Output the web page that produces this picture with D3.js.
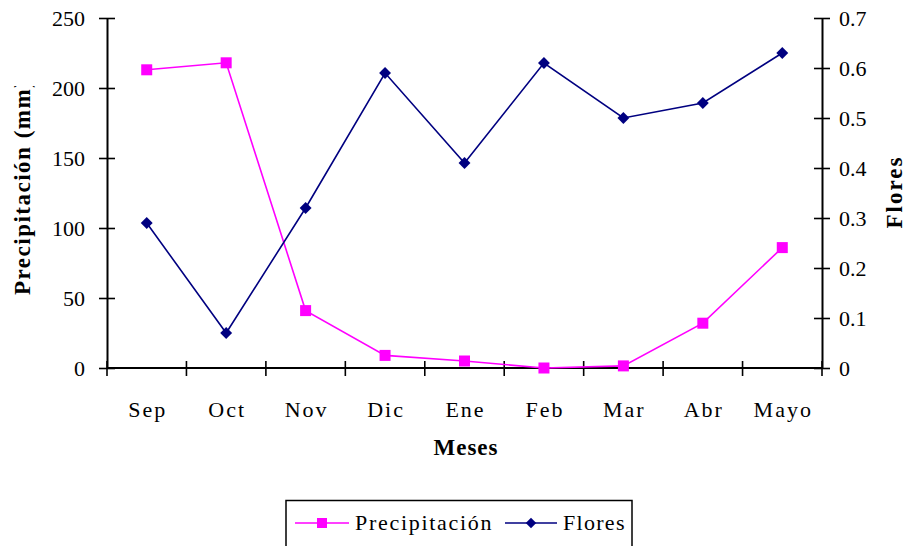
<!DOCTYPE html>
<html>
<head>
<meta charset="utf-8">
<script src="https://cdn.jsdelivr.net/npm/d3@7/dist/d3.min.js"></script>
<style>
  body { margin: 0; background: #fff; }
  svg text { font-family: "Times New Roman", "Liberation Serif", "DejaVu Serif", serif; fill: #000; }
</style>
</head>
<body>
<svg id="chart" width="907" height="546"></svg>
<script>
// Monthly rainfall and flowering
const months = ["Sep", "Oct", "Nov", "Dic", "Ene", "Feb", "Mar", "Abr", "Mayo"];
const precipitacion = [213, 218, 41, 9, 5, 0, 1.5, 32, 86];
const flores = [0.29, 0.07, 0.32, 0.59, 0.41, 0.61, 0.50, 0.53, 0.63];
const leftTicks = [0, 50, 100, 150, 200, 250];
const rightTicks = [0, 0.1, 0.2, 0.3, 0.4, 0.5, 0.6, 0.7];

const svg = d3.select("#chart");
const m = { left: 107, right: 822, top: 18, bottom: 368 };

const x = d3.scaleBand().domain(months).range([m.left, m.right]);
const yL = d3.scaleLinear().domain([0, 250]).range([m.bottom, m.top]);
const yR = d3.scaleLinear().domain([0, 0.7]).range([m.bottom, m.top]);

const fontSize = 22;

// Axes: ticks cross the axis line
function styleAxis(g) {
  g.attr("font-family", null);
  g.select(".domain").attr("stroke", "#000").attr("stroke-width", 2);
  g.selectAll(".tick line").attr("stroke", "#000").attr("stroke-width", 1.6);
  g.selectAll(".tick text").attr("font-size", fontSize).attr("fill", "#000");
}

const gL = svg.append("g").attr("transform", `translate(${m.left},0)`)
  .call(d3.axisLeft(yL).tickValues(leftTicks).tickSize(8).tickSizeOuter(0).tickPadding(14));
gL.selectAll(".tick line").attr("x2", 8).attr("x1", -8);
styleAxis(gL);

const gR = svg.append("g").attr("transform", `translate(${m.right},0)`)
  .call(d3.axisRight(yR).tickValues(rightTicks).tickFormat(d => d === 0 ? "0" : d3.format(".1f")(d))
    .tickSize(8).tickSizeOuter(0).tickPadding(9));
gR.selectAll(".tick line").attr("x1", -8).attr("x2", 8);
styleAxis(gR);

// Category axis with ticks at band boundaries
const gX = svg.append("g").attr("transform", `translate(0,${m.bottom})`);
gX.append("line").attr("x1", m.left).attr("x2", m.right).attr("stroke", "#000").attr("stroke-width", 2);
const bounds = months.map(d => x(d)).concat([x.range()[1]]);
gX.selectAll("line.tk").data(bounds).join("line").attr("class", "tk")
  .attr("x1", d => d).attr("x2", d => d).attr("y1", -7).attr("y2", 8)
  .attr("stroke", "#000").attr("stroke-width", 1.6);
gX.selectAll("text").data(months).join("text")
  .attr("x", d => x(d) + x.bandwidth() / 2 + 1).attr("y", 49)
  .attr("text-anchor", "middle").attr("font-size", fontSize)
  .attr("letter-spacing", 2).text(d => d);

// Axis titles
svg.append("text").attr("x", 466).attr("y", 455).attr("text-anchor", "middle")
  .attr("font-size", 23).attr("font-weight", "bold").attr("letter-spacing", 1).text("Meses");

svg.append("clipPath").attr("id", "clipTitle")
  .append("rect").attr("x", 0).attr("y", 86).attr("width", 60).attr("height", 300);
svg.append("g").attr("clip-path", "url(#clipTitle)")
  .append("text").attr("transform", "translate(30,295) rotate(-90)")
  .attr("text-anchor", "start").attr("font-size", 23).attr("font-weight", "bold")
  .attr("letter-spacing", 1.5).text("Precipitación (mm)");

svg.append("text").attr("transform", "translate(902,192) rotate(-90)")
  .attr("text-anchor", "middle").attr("font-size", 23).attr("font-weight", "bold")
  .attr("letter-spacing", 2).text("Flores");

const cx = d => x(d) + x.bandwidth() / 2;
const pink = "#FF00FF", navy = "#000080";

// Precipitation series
svg.append("path").datum(months)
  .attr("d", d3.line().x(cx).y((d, i) => yL(precipitacion[i])))
  .attr("fill", "none").attr("stroke", pink).attr("stroke-width", 1.6);
svg.selectAll("rect.p").data(months).join("rect").attr("class", "p")
  .attr("x", d => cx(d) - 5.5).attr("y", (d, i) => yL(precipitacion[i]) - 5.5)
  .attr("width", 11).attr("height", 11).attr("fill", pink);

// Flowering series
svg.append("path").datum(months)
  .attr("d", d3.line().x(cx).y((d, i) => yR(flores[i])))
  .attr("fill", "none").attr("stroke", navy).attr("stroke-width", 1.6);
const diamond = d3.symbol().type(d3.symbolDiamond2).size(90);
svg.selectAll("path.f").data(months).join("path").attr("class", "f")
  .attr("d", diamond).attr("transform", (d, i) => `translate(${cx(d)},${yR(flores[i])})`)
  .attr("fill", navy);

// Legend
const lg = svg.append("g");
lg.append("rect").attr("x", 286).attr("y", 500.5).attr("width", 346).attr("height", 50)
  .attr("fill", "#fff").attr("stroke", "#000").attr("stroke-width", 1.5);
lg.append("line").attr("x1", 295).attr("x2", 349).attr("y1", 523).attr("y2", 523)
  .attr("stroke", pink).attr("stroke-width", 1.6);
lg.append("rect").attr("x", 317).attr("y", 518).attr("width", 10).attr("height", 10).attr("fill", pink);
lg.append("text").attr("x", 355).attr("y", 530).attr("font-size", fontSize)
  .attr("letter-spacing", 1.7).text("Precipitación");
lg.append("line").attr("x1", 505).attr("x2", 557).attr("y1", 523).attr("y2", 523)
  .attr("stroke", navy).attr("stroke-width", 1.6);
lg.append("path").attr("d", d3.symbol().type(d3.symbolDiamond2).size(70))
  .attr("transform", "translate(531,523)").attr("fill", navy);
lg.append("text").attr("x", 563).attr("y", 530).attr("font-size", fontSize)
  .attr("letter-spacing", 1.3).text("Flores");
</script>
</body>
</html>
